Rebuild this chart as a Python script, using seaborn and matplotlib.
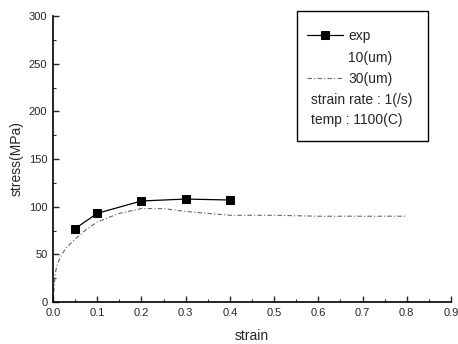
import matplotlib
matplotlib.use("Agg")
import matplotlib.pyplot as plt
import seaborn as sns
import pandas as pd
from matplotlib.patches import Rectangle
from matplotlib.ticker import MultipleLocator, FormatStrFormatter

# Experimental flow stress
exp_strain = [0.05, 0.1, 0.2, 0.3, 0.4]
exp_stress = [77, 93, 106, 108, 107]

# Simulated flow curve (grain size 30 um)
sim_strain = [0.0, 0.005, 0.01, 0.02, 0.03, 0.05, 0.075, 0.1, 0.15, 0.2, 0.25,
              0.3, 0.35, 0.4, 0.5, 0.6, 0.7, 0.8]
sim_stress = [0, 30, 40, 50, 57, 66, 76, 84, 93, 98, 98,
              95, 93, 91, 91, 90, 90, 90]

x_ticks = [0.0, 0.1, 0.2, 0.3, 0.4, 0.5, 0.6, 0.7, 0.8, 0.9]
y_ticks = [0, 50, 100, 150, 200, 250, 300]

sns.set_style("ticks")
plt.rcParams["font.family"] = ["Liberation Sans", "DejaVu Sans"]

fig = plt.figure(figsize=(4.58, 3.44), dpi=100)
ax = fig.add_axes([0.1157, 0.122, 0.8690, 0.8315])

exp_df = pd.DataFrame({"strain": exp_strain, "stress": exp_stress})
sim_df = pd.DataFrame({"strain": sim_strain, "stress": sim_stress})

sns.lineplot(data=exp_df, x="strain", y="stress", ax=ax, color="black",
             lw=0.9, marker="s", markersize=6, markeredgecolor="black",
             label="exp")
# 10 um curve drawn in white (legend entry only visible as text)
ax.plot([], [], color="white", lw=0.9, label="10(um)")
sns.lineplot(data=sim_df, x="strain", y="stress", ax=ax, color="#666666",
             lw=0.8, linestyle=(0, (4, 2, 1, 2)), label="30(um)")

ax.set_xlim(0, 0.9)
ax.set_ylim(0, 300)
ax.set_xticks(x_ticks)
ax.set_yticks(y_ticks)
ax.xaxis.set_major_formatter(FormatStrFormatter("%.1f"))
ax.xaxis.set_minor_locator(MultipleLocator(0.05))
ax.yaxis.set_minor_locator(MultipleLocator(25))
ax.tick_params(which="major", direction="in", length=4, width=1.0,
               labelsize=8, pad=4)
ax.tick_params(which="minor", direction="in", length=2, width=0.8)
for s in ["top", "right"]:
    ax.spines[s].set_visible(False)
for s in ["left", "bottom"]:
    ax.spines[s].set_linewidth(1.2)
    ax.spines[s].set_color("black")

ax.set_xlabel("strain", fontsize=10, labelpad=8)
ax.set_ylabel("stress(MPa)", fontsize=10, labelpad=4)

leg = ax.legend(loc="upper left", bbox_to_anchor=(0.625, 0.974), frameon=False,
                fontsize=10, handlelength=2.6, handletextpad=0.35,
                labelspacing=0.55, borderaxespad=0)
ax.text(0.648, 0.708, "strain rate : 1(/s)", transform=ax.transAxes,
        fontsize=10, va="center", ha="left")
ax.text(0.648, 0.638, "temp : 1100(C)", transform=ax.transAxes,
        fontsize=10, va="center", ha="left")
ax.add_patch(Rectangle((0.612, 0.563), 0.33, 0.454, transform=ax.transAxes,
                       fill=False, edgecolor="black", lw=1.0, zorder=5,
                       clip_on=False))

fig.savefig("out.png", dpi=100)
